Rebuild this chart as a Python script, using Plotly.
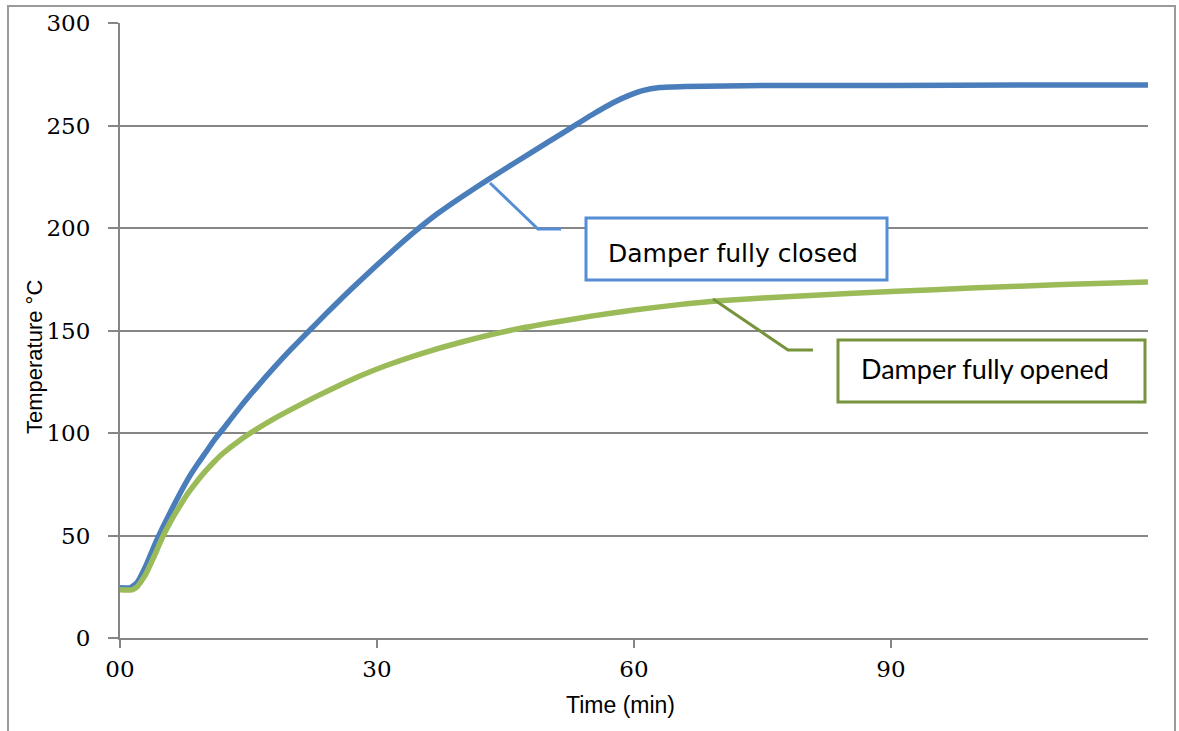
import plotly.graph_objects as go

# ---- data ----
t_closed = [0, 1.2, 2, 3, 4, 5, 6, 7, 8, 9, 10, 11, 12, 14, 16, 18, 20, 22, 24, 26, 28, 30, 32,
            34.4, 37, 40, 43.2, 46, 50, 52.7, 55, 57.5, 59.5, 61, 63, 66, 75, 90, 105, 120]
T_closed = [24.5, 24.5, 27, 35, 45, 54, 62.5, 70.5, 78, 84.5, 90.5, 96.5, 101.8, 112.5, 122.5, 132, 141,
            149.5, 158, 166.2, 174.2, 182, 189.5, 198.2, 206.8, 215.5, 224.2, 231.6, 242, 249, 255, 261,
            264.8, 267, 268.5, 269, 269.5, 269.5, 269.8, 269.8]

t_opened = [0, 1.4, 2, 3, 4, 5, 6, 7, 8, 9, 10, 11, 12, 14, 16, 18, 20, 23, 26, 28, 31, 35,
            40, 45.5, 50, 55, 60, 65, 70, 80, 90, 100, 110, 120]
T_opened = [23.5, 23.5, 25, 31, 40, 49.5, 57.5, 64.5, 71, 76.5, 81.5, 86, 90, 96.5, 102, 107, 111.5,
            118, 124, 127.8, 132.8, 138.5, 144.5, 150, 153.5, 157, 160, 162.5, 164.5, 167, 169,
            170.8, 172.4, 173.7]

x_tickvals = [0, 30, 60, 90]
x_ticktext = ["00", "30", "60", "90"]
y_tickvals = [0, 50, 100, 150, 200, 250, 300]

labels = ["Damper fully closed", "Damper fully opened"]

# ---- layout helpers (page pixel -> paper) ----
L, R, T, B = 120, 1148, 23, 638
W, H = 1179, 731
def px(x):
    return (x - L) / (R - L)
def py(y):
    return (B - y) / (B - T)

BLUE = "#4A7EBB"
GREEN = "#9BBB59"
GRID = "#868686"

fig = go.Figure()
fig.add_trace(go.Scatter(x=t_closed, y=T_closed, mode="lines", name=labels[0],
                         line=dict(color=BLUE, width=5.5, shape="spline", smoothing=0.5)))
fig.add_trace(go.Scatter(x=t_opened, y=T_opened, mode="lines", name=labels[1],
                         line=dict(color=GREEN, width=5.5, shape="spline", smoothing=0.5)))

tickfont = dict(family="DejaVu Serif", size=23, color="#000000")

fig.update_xaxes(range=[0, 120], tickvals=x_tickvals, ticktext=x_ticktext, automargin=False,
                 showgrid=False, zeroline=False, showline=True, linecolor=GRID, linewidth=2,
                 ticks="outside", ticklen=8, tickwidth=2, tickcolor=GRID,
                 tickfont=tickfont, ticklabelstandoff=1)
fig.update_yaxes(range=[0, 300], tickvals=y_tickvals, automargin=False,
                 showgrid=True, gridcolor=GRID, gridwidth=2, zeroline=False,
                 showline=True, linecolor=GRID, linewidth=2,
                 ticks="outside", ticklen=10, tickwidth=2, tickcolor=GRID,
                 tickfont=tickfont, ticklabelstandoff=13)

shapes = [
    # outer chart border
    dict(type="rect", xref="paper", yref="paper", x0=px(8), x1=px(1175), y0=py(745), y1=py(6),
         line=dict(color="#9A9A9A", width=2), fillcolor="rgba(0,0,0,0)", layer="below"),
    # leader lines
    dict(type="path", xref="paper", yref="paper",
         path=f"M {px(490)} {py(183)} L {px(538)} {py(229)} L {px(561)} {py(229)}",
         line=dict(color="#558ED5", width=3)),
    dict(type="path", xref="paper", yref="paper",
         path=f"M {px(713)} {py(299)} L {px(788)} {py(350)} L {px(813)} {py(350)}",
         line=dict(color="#77933C", width=3)),
    # label boxes
    dict(type="rect", xref="paper", yref="paper", x0=px(586), x1=px(887), y0=py(280), y1=py(218),
         line=dict(color="#558ED5", width=3), fillcolor="#FFFFFF"),
    dict(type="rect", xref="paper", yref="paper", x0=px(838), x1=px(1145), y0=py(402), y1=py(340),
         line=dict(color="#77933C", width=3), fillcolor="#FFFFFF"),
]

annotations = [
    dict(text=labels[0], xref="paper", yref="paper", x=px(606), y=py(253),
         xanchor="left", yanchor="middle", showarrow=False,
         font=dict(family="DejaVu Sans", size=25, color="#000000")),
    dict(text=labels[1], xref="paper", yref="paper", x=px(859), y=py(368),
         xanchor="left", yanchor="middle", showarrow=False,
         font=dict(family="Lato", size=27, color="#000000")),
    dict(text="Time (min)", xref="paper", yref="paper", x=px(620), y=py(705),
         xanchor="center", yanchor="middle", showarrow=False,
         font=dict(family="Liberation Sans", size=23, color="#000000")),
    dict(text="Temperature °C", xref="paper", yref="paper", x=px(34), y=py(357),
         xanchor="center", yanchor="middle", showarrow=False, textangle=-90,
         font=dict(family="Liberation Sans", size=22, color="#000000")),
]

fig.update_layout(
    width=W, height=H,
    margin=dict(l=L, r=W - R, t=T, b=H - B),
    paper_bgcolor="#FFFFFF", plot_bgcolor="#FFFFFF",
    showlegend=False,
    shapes=shapes, annotations=annotations,
)

# remove the default page margin so the figure sits at the window origin
fig.write_html("out.html",
               config={"displayModeBar": False},
               post_script="document.body.style.margin='0';document.body.style.overflow='hidden';")
